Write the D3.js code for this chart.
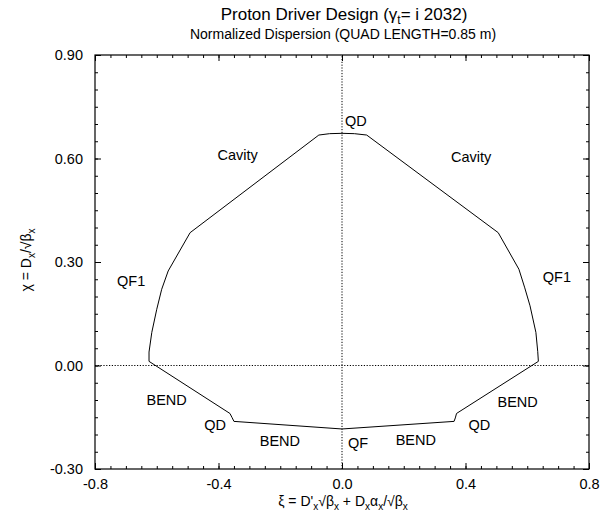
<!DOCTYPE html>
<html>
<head>
<meta charset="utf-8">
<script src="https://cdn.jsdelivr.net/npm/d3@7"></script>
<style>
  body { margin: 0; background: #fff; }
  text { font-family: "Liberation Sans", Arial, Helvetica, sans-serif; fill: #000; }
</style>
</head>
<body>
<svg id="chart" width="606" height="518"></svg>
<script>
// normalized dispersion orbit (closed loop, clockwise from top)
const xiValues = [
  -0.075, -0.04, 0.0, 0.04, 0.08,
  0.506, 0.573, 0.592, 0.609, 0.628, 0.634, 0.636,
  0.371, 0.367, 0.363,
  0.0,
  -0.350, -0.356, -0.363,
  -0.625, -0.625, -0.616, -0.600, -0.584, -0.563, -0.492,
  -0.075
];
const chiValues = [
  0.668, 0.672, 0.673, 0.672, 0.668,
  0.385, 0.279, 0.225, 0.173, 0.096, 0.040, 0.012,
  -0.139, -0.152, -0.162,
  -0.184,
  -0.162, -0.151, -0.139,
  0.012, 0.039, 0.096, 0.163, 0.221, 0.274, 0.385,
  0.668
];

// element labels
const labelText = ["QD", "Cavity", "Cavity", "QF1", "QF1", "BEND", "QD", "BEND", "QF", "BEND", "QD", "BEND"];
const labelXi   = [0.045, -0.338, 0.418, -0.683, 0.696, -0.568, -0.411, -0.201, 0.052, 0.239, 0.445, 0.569];
const labelChi  = [0.709, 0.611, 0.605, 0.247, 0.256, -0.099, -0.172, -0.217, -0.223, -0.216, -0.171, -0.106];

const xTicks = [-0.8, -0.4, 0.0, 0.4, 0.8];
const yTicks = [-0.3, 0.0, 0.3, 0.6, 0.9];

const svg = d3.select("#chart");
const W = 606, H = 518;
const margin = { top: 55, right: 17, bottom: 49, left: 95 };
const iw = W - margin.left - margin.right;
const ih = H - margin.top - margin.bottom;

const x = d3.scaleLinear().domain([-0.8, 0.8]).range([margin.left, margin.left + iw]);
const y = d3.scaleLinear().domain([-0.3, 0.9]).range([margin.top + ih, margin.top]);

// write text with subscripts: parts = [[string, isSub], ...]
function richText(el, parts, subSize) {
  let down = false;
  parts.forEach(p => {
    const t = el.append("tspan").text(p[0]);
    if (p[1]) {
      t.attr("font-size", subSize);
      if (!down) { t.attr("dy", 4); down = true; }
    } else if (down) {
      t.attr("dy", -4);
      down = false;
    }
  });
}

// dotted zero lines
svg.append("line")
  .attr("x1", x(-0.8)).attr("x2", x(0.8))
  .attr("y1", y(0)).attr("y2", y(0))
  .attr("stroke", "#000").attr("stroke-width", 1)
  .attr("stroke-dasharray", "1.2,1.6");
svg.append("line")
  .attr("x1", x(0)).attr("x2", x(0))
  .attr("y1", y(-0.3)).attr("y2", y(0.9))
  .attr("stroke", "#000").attr("stroke-width", 1)
  .attr("stroke-dasharray", "1.2,1.6");

// axes: ticks pointing inward on all four sides
const minorX = d3.range(-16, 17).map(i => i * 0.05);
const minorY = d3.range(-6, 19).map(i => i * 0.05);

function addAxis(axis, transform) {
  const g = svg.append("g").attr("transform", transform).call(axis);
  g.select(".domain").remove();
  g.selectAll("line").attr("stroke", "#000");
  return g;
}

addAxis(d3.axisBottom(x).tickValues(minorX).tickSize(-3).tickFormat(""), `translate(0,${y(-0.3)})`);
addAxis(d3.axisTop(x).tickValues(minorX).tickSize(-3).tickFormat(""), `translate(0,${y(0.9)})`);
addAxis(d3.axisLeft(y).tickValues(minorY).tickSize(-3).tickFormat(""), `translate(${x(-0.8)},0)`);
addAxis(d3.axisRight(y).tickValues(minorY).tickSize(-3).tickFormat(""), `translate(${x(0.8)},0)`);

const xb = addAxis(d3.axisBottom(x).tickValues(xTicks).tickSize(-6).tickPadding(10).tickFormat(d => d.toFixed(1)),
  `translate(0,${y(-0.3)})`);
addAxis(d3.axisTop(x).tickValues(xTicks).tickSize(-6).tickFormat(""), `translate(0,${y(0.9)})`);
const yl = addAxis(d3.axisLeft(y).tickValues(yTicks).tickSize(-6).tickPadding(12).tickFormat(d => d.toFixed(2)),
  `translate(${x(-0.8)},0)`);
addAxis(d3.axisRight(y).tickValues(yTicks).tickSize(-6).tickFormat(""), `translate(${x(0.8)},0)`);

xb.selectAll("text").attr("font-size", 14.5).attr("font-family", null);
yl.selectAll("text").attr("font-size", 14.5).attr("font-family", null);

// frame
svg.append("rect")
  .attr("x", x(-0.8)).attr("y", y(0.9))
  .attr("width", iw).attr("height", ih)
  .attr("fill", "none").attr("stroke", "#000").attr("stroke-width", 1.2);

// orbit
const pts = xiValues.map((v, i) => [v, chiValues[i]]);
const line = d3.line().x(d => x(d[0])).y(d => y(d[1]));
svg.append("path")
  .attr("d", line(pts))
  .attr("fill", "none")
  .attr("stroke", "#000")
  .attr("stroke-width", 1);

// element labels
svg.append("g").selectAll("text")
  .data(labelText)
  .enter().append("text")
  .attr("x", (d, i) => x(labelXi[i]))
  .attr("y", (d, i) => y(labelChi[i]))
  .attr("dy", "0.36em")
  .attr("text-anchor", "middle")
  .attr("font-size", 14.5)
  .text(d => d);

// titles
const title = svg.append("text")
  .attr("x", 344).attr("y", 20)
  .attr("text-anchor", "middle")
  .attr("font-size", 17);
richText(title, [["Proton Driver Design (γ", false], ["t", true], ["= i 2032)", false]], 12);

svg.append("text")
  .attr("x", 343).attr("y", 39)
  .attr("text-anchor", "middle")
  .attr("font-size", 14)
  .text("Normalized Dispersion (QUAD LENGTH=0.85 m)");

// axis titles
const xt = svg.append("text")
  .attr("x", 343).attr("y", 506)
  .attr("text-anchor", "middle")
  .attr("font-size", 14);
richText(xt, [["ξ = D'", false], ["x", true], ["√β", false], ["x", true], [" + D", false], ["x", true],
  ["α", false], ["x", true], ["/√β", false], ["x", true]], 10);

const yt = svg.append("text")
  .attr("transform", "translate(31,260) rotate(-90)")
  .attr("text-anchor", "middle")
  .attr("font-size", 14);
richText(yt, [["χ = D", false], ["x", true], ["/√β", false], ["x", true]], 10);
</script>
</body>
</html>
